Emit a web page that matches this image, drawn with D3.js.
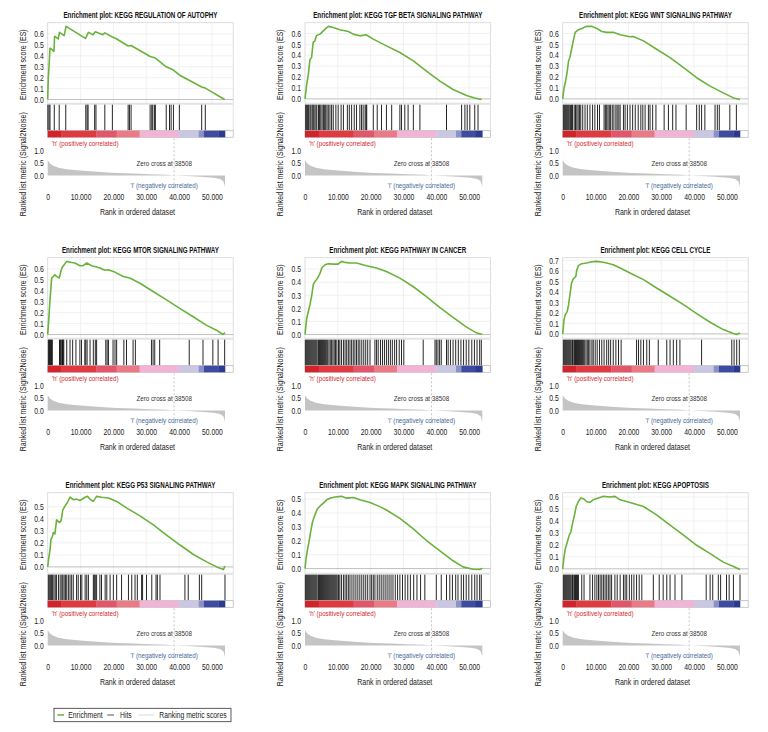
<!DOCTYPE html>
<html><head><meta charset="utf-8">
<script src="https://cdn.jsdelivr.net/npm/d3@7/dist/d3.min.js"></script>
<style>
html,body{margin:0;padding:0;background:#fff;}
svg{display:block;font-family:"Liberation Sans",Arial,sans-serif;}
</style></head><body>
<svg id="chart" width="768" height="732"></svg>
<script>
// ---------- DATA (ranks in thousands) ----------
const panelTitles = [
  "Enrichment plot: KEGG REGULATION OF AUTOPHY",
  "Enrichment plot: KEGG TGF BETA SIGNALING PATHWAY",
  "Enrichment plot: KEGG WNT SIGNALING PATHWAY",
  "Enrichment plot: KEGG MTOR SIGNALING PATHWAY",
  "Enrichment plot: KEGG PATHWAY IN CANCER",
  "Enrichment plot: KEGG CELL CYCLE",
  "Enrichment plot: KEGG P53 SIGNALING PATHWAY",
  "Enrichment plot: KEGG MAPK SIGNALING PATHWAY",
  "Enrichment plot: KEGG APOPTOSIS"
];

const esAutophagy = [[0,0],[0.2,0.21],[0.4,0.30],[0.7,0.47],[1.4,0.455],[1.9,0.44],[2.1,0.58],[3.2,0.555],[3.6,0.615],[5.0,0.585],[5.6,0.67],[11.5,0.56],[12.4,0.615],[13.8,0.594],[14.5,0.62],[16.8,0.594],[17.4,0.61],[19.7,0.572],[20.9,0.557],[24.5,0.49],[25.4,0.495],[31.2,0.394],[32.8,0.38],[36.1,0.30],[38.3,0.27],[40.1,0.225],[46.9,0.115],[48.0,0.105],[53.9,0.0]];
const hitsAutophagy = [0.05,0.4,0.7,2.0,3.5,5.5,11.6,12.0,12.3,14.3,14.7,17.4,19.7,24.5,24.9,25.4,31.2,31.7,32.0,32.5,32.8,36.1,37.1,37.6,38.3,40.1,46.9,48.0];

const esTgfBeta = [[0,0],[0.5,0.13],[1.0,0.22],[1.5,0.36],[2.0,0.38],[2.5,0.52],[3.0,0.53],[3.5,0.58],[4.6,0.594],[5.1,0.61],[6.1,0.64],[7.1,0.665],[8.6,0.655],[10.6,0.634],[13.2,0.618],[14.7,0.594],[16.7,0.578],[18.6,0.588],[20.8,0.548],[24.8,0.486],[28.9,0.425],[33.0,0.348],[37.0,0.255],[41.1,0.163],[45.1,0.086],[49.2,0.031],[51.7,0.009],[53.8,-0.006]];
const hitsTgfBeta = [0.2,0.5,0.8,1.1,1.5,1.8,2.2,2.5,2.8,3.3,3.6,4.1,4.4,4.8,5.2,5.6,5.9,6.3,6.7,7.1,7.6,8.1,8.6,9.4,10.1,11.0,11.7,12.9,13.5,14.2,15.0,15.7,16.7,17.2,17.7,18.3,18.6,18.8,20.8,22.0,23.3,24.8,26.4,28.9,29.4,30.4,31.4,33.0,35.0,43.1,47.7,48.7,49.4,50.2,51.7,52.7];

const esWnt = [[0,0],[0.4,0.10],[0.8,0.15],[1.4,0.255],[1.8,0.35],[2.2,0.38],[2.7,0.455],[3.2,0.53],[3.8,0.61],[4.8,0.634],[5.8,0.646],[7.3,0.665],[8.8,0.665],[10.4,0.646],[11.9,0.618],[13.4,0.61],[15.4,0.61],[17.5,0.588],[20.5,0.57],[21.5,0.572],[24.6,0.532],[28.6,0.455],[32.7,0.378],[36.8,0.286],[40.8,0.194],[44.9,0.117],[48.9,0.055],[52.0,0.009],[54.0,-0.006]];
const hitsWnt = [0.2,0.5,0.8,1.1,1.4,1.7,2.0,2.4,2.7,3.0,3.5,3.9,4.3,4.7,5.1,5.5,6.1,6.8,7.5,8.3,9.1,9.8,10.6,11.2,12.6,13.0,13.4,13.8,14.2,14.6,15.1,15.6,16.2,16.6,17.1,17.5,18.5,19.0,19.7,20.5,21.3,22.1,23.0,23.8,24.4,25.1,26.1,26.6,27.4,28.4,30.9,32.2,33.5,34.5,37.6,40.8,41.6,42.3,43.3,46.4,47.1,47.7,50.9,52.9];

const esMtor = [[0,0],[0.3,0.13],[0.7,0.317],[0.9,0.394],[1.2,0.517],[1.7,0.532],[2.2,0.548],[2.7,0.532],[3.5,0.517],[4.3,0.609],[4.8,0.63],[5.8,0.67],[7.3,0.66],[8.3,0.655],[9.8,0.63],[10.8,0.63],[11.9,0.655],[13.4,0.63],[14.9,0.618],[15.9,0.609],[17.4,0.588],[18.4,0.594],[20.0,0.578],[23.0,0.532],[25.0,0.517],[28.1,0.47],[32.1,0.394],[36.2,0.317],[40.2,0.24],[44.3,0.163],[48.3,0.086],[51.4,0.04],[53.4,0.0],[54.0,0.018]];
const hitsMtor = [0.2,0.4,0.6,0.8,1.0,1.2,1.4,3.6,3.8,4.0,4.3,4.5,4.7,4.9,5.8,6.8,7.6,8.6,9.8,10.3,11.3,11.6,12.0,12.9,13.9,14.5,14.9,17.7,18.1,18.5,19.9,20.5,21.0,23.2,24.0,26.0,26.7,31.6,32.1,32.6,34.1,43.1,47.3,50.3,51.9,53.9];

const esCancer = [[0,0],[0.5,0.123],[1.0,0.174],[1.5,0.226],[2.0,0.29],[2.5,0.38],[3.0,0.405],[3.5,0.418],[4.1,0.444],[4.6,0.469],[5.1,0.508],[6.1,0.533],[7.1,0.541],[8.6,0.538],[10.1,0.538],[11.1,0.559],[12.2,0.551],[13.7,0.546],[15.7,0.546],[18.7,0.526],[21.8,0.508],[24.8,0.482],[28.9,0.431],[32.9,0.367],[37.0,0.29],[41.0,0.208],[45.1,0.131],[49.1,0.059],[52.2,0.013],[54.0,0]];
const hitsCancer = [0.1,0.4,0.7,1.0,1.3,1.6,1.9,2.2,2.5,2.8,3.1,3.4,3.7,4.1,4.4,4.7,5.0,5.3,5.6,5.9,6.2,6.5,6.9,7.3,7.7,8.1,8.5,8.9,9.3,9.7,10.2,10.6,11.1,11.7,12.2,12.7,13.2,13.7,14.2,14.7,15.2,15.7,16.2,16.7,17.3,17.9,18.5,19.1,19.8,21.3,21.8,22.3,23.0,23.6,24.2,24.8,25.4,26.0,26.6,27.3,27.9,28.7,29.4,30.1,36.0,39.6,40.0,40.5,41.0,41.5,43.1,43.6,44.3,45.1,45.9,46.7,47.5,48.3,49.1,49.9,50.8,51.6,52.4,53.2,53.7];

const esCellCycle = [[0,0],[0.4,0.136],[0.8,0.184],[1.4,0.215],[1.8,0.278],[2.2,0.373],[2.7,0.484],[3.2,0.522],[4.0,0.547],[4.3,0.61],[4.8,0.649],[5.8,0.668],[7.3,0.674],[8.8,0.687],[10.4,0.69],[11.9,0.684],[13.4,0.674],[15.4,0.658],[17.5,0.627],[20.5,0.579],[24.6,0.516],[28.6,0.437],[32.7,0.358],[36.8,0.278],[40.8,0.193],[44.9,0.111],[48.9,0.041],[52.0,0.003],[53.0,-0.006],[54.0,0.009]];
const hitsCellCycle = [0.2,0.5,0.8,1.1,1.4,1.7,2.0,2.3,2.6,3.0,3.2,3.6,3.9,4.2,4.5,4.8,5.1,5.4,5.7,6.0,6.3,6.7,7.1,7.5,7.9,8.3,8.9,9.3,9.9,10.5,11.2,11.9,12.6,13.4,14.0,14.6,15.4,16.2,17.0,17.8,22.5,23.1,23.8,24.6,25.6,26.4,29.1,31.7,32.7,33.7,34.7,35.7,42.3,51.5,52.2,53.0,53.8];

const esP53 = [[0,0],[0.3,0.07],[0.7,0.14],[1.0,0.229],[1.4,0.251],[1.7,0.285],[2.2,0.274],[2.7,0.391],[3.6,0.369],[4.1,0.385],[4.6,0.475],[5.3,0.508],[6.0,0.536],[6.8,0.58],[7.8,0.559],[8.8,0.564],[9.8,0.553],[11.4,0.58],[12.1,0.587],[13.1,0.559],[13.9,0.545],[14.9,0.587],[16.4,0.58],[18.5,0.573],[21.0,0.545],[24.1,0.489],[28.1,0.425],[32.2,0.349],[36.2,0.265],[40.3,0.182],[44.4,0.103],[48.4,0.042],[51.5,0.0],[53.5,-0.022],[54.0,0.006]];
const hitsP53 = [0.2,0.5,0.9,1.2,1.5,1.9,2.3,2.7,3.3,3.8,4.3,4.6,5.0,5.4,5.8,6.3,6.8,7.3,7.8,8.8,9.3,10.0,10.4,11.4,11.9,12.4,13.9,14.2,14.5,14.9,15.9,16.4,17.5,18.0,19.0,20.0,21.0,22.5,24.6,25.6,26.6,27.3,28.6,28.9,30.1,31.7,33.0,33.4,34.2,41.8,42.8,46.2,46.9,54.0];

const esMapk = [[0,0],[0.3,0.068],[0.7,0.129],[1.2,0.19],[1.7,0.263],[2.3,0.337],[3.0,0.385],[3.7,0.427],[4.6,0.451],[5.6,0.471],[6.6,0.495],[7.6,0.507],[9.1,0.515],[11.1,0.52],[12.7,0.507],[14.7,0.512],[16.7,0.495],[19.8,0.476],[22.8,0.446],[24.8,0.422],[28.9,0.361],[32.9,0.288],[37.0,0.202],[41.0,0.129],[45.1,0.056],[48.1,0.012],[51.2,-0.005],[53.2,-0.007],[54.0,0.002]];
const hitsMapk = [0.1,0.4,0.7,1.0,1.3,1.6,1.9,2.2,2.5,2.8,3.1,3.4,3.7,4.1,4.4,4.7,5.0,5.3,5.6,5.9,6.2,6.5,6.8,7.1,7.4,7.7,8.0,8.3,8.6,8.9,9.2,9.5,9.8,10.2,10.6,11.1,11.7,12.2,12.7,13.2,13.7,14.3,14.9,15.5,16.1,16.7,17.3,17.9,18.5,19.1,19.8,20.3,20.8,21.3,22.0,22.6,23.2,23.8,24.4,25.0,25.6,26.2,26.8,27.5,28.2,28.9,29.7,30.5,31.3,32.1,33.1,34.1,35.2,36.5,40.0,41.5,43.1,44.1,44.9,45.9,46.6,47.6,48.3,49.1,49.9,50.8,51.7,52.4,53.2,53.7];

const esApoptosis = [[0,0],[0.4,0.099],[0.8,0.169],[1.4,0.225],[2.0,0.282],[2.5,0.31],[3.0,0.38],[3.6,0.451],[4.1,0.521],[4.8,0.563],[5.5,0.592],[6.5,0.583],[7.3,0.563],[8.3,0.555],[9.3,0.577],[10.9,0.592],[12.4,0.606],[14.4,0.6],[15.9,0.606],[17.5,0.577],[20.5,0.555],[24.6,0.521],[28.6,0.451],[32.7,0.366],[36.8,0.282],[40.8,0.197],[44.9,0.127],[48.9,0.056],[52.0,0.02],[54.0,-0.006]];
const hitsApoptosis = [0.2,0.5,0.8,1.1,1.4,1.7,2.0,2.3,2.6,3.0,3.2,3.6,3.9,4.2,4.5,4.8,5.8,6.5,8.3,9.1,9.8,10.4,10.9,11.4,11.9,12.4,12.9,13.4,13.9,14.4,14.9,15.9,16.6,17.5,18.5,19.0,19.5,20.3,21.0,21.7,22.5,23.3,24.1,27.6,29.4,30.6,31.7,32.7,34.2,36.3,43.7,44.9,45.7,47.4,48.1,49.9,50.7,52.0,54.0];

// ranked list metric (shared by all panels)
const metricRank  = [0, 0.7, 1.7, 3.3, 5.8, 9.9, 16.0, 21.0, 26.1, 31.2, 36.2, 38.5, 42.3, 46.4, 50.5, 52.5, 53.5, 53.9, 54.0];
const metricValue = [0.61, 0.48, 0.39, 0.31, 0.25, 0.195, 0.143, 0.10, 0.078, 0.052, 0.026, 0.0, -0.026, -0.052, -0.09, -0.14, -0.23, -0.40, -0.49];

// phenotype colour bar
const barBreaks = [0, 4.2, 14.8, 21.0, 28.0, 40.0, 46.0, 47.6, 52.0, 54.0];
const barColors = ["#d2232a", "#e03a40", "#e2566a", "#ea7b86", "#f1b4d6", "#cac7e5", "#8a90c8", "#3d4ca0", "#2c3b92"];

const zeroCross = 38508;
const xTicks = [0, 10, 20, 30, 40, 50];
const metricTicks = [0.0, 0.5, 1.0];
const legendLabels = ["Enrichment", "Hits", "Ranking metric scores"];

const esSeries = [esAutophagy, esTgfBeta, esWnt, esMtor, esCancer, esCellCycle, esP53, esMapk, esApoptosis];
const hitSeries = [hitsAutophagy, hitsTgfBeta, hitsWnt, hitsMtor, hitsCancer, hitsCellCycle, hitsP53, hitsMapk, hitsApoptosis];

// ---------- LAYOUT ----------
const svg = d3.select("#chart");
const colLeft = [47.7, 305, 562.7];
const rowTop = [22.7, 257.7, 492.7];
const plotW = 185.5;
const green = "#6ab23c";
const ink = "#1a1a1a";
const fmtK = d3.formatLocale({decimal: ",", thousands: ".", grouping: [3], currency: ["", ""]}).format(",d");
const NARROW = 0.8;
function condense(sel, f) {
  sel.each(function () {
    const w = this.getComputedTextLength();
    this.setAttribute("textLength", (w * (f || NARROW)).toFixed(2));
    this.setAttribute("lengthAdjust", "spacingAndGlyphs");
  });
  return sel;
}

const metricPts = metricRank.map((r, i) => [r, metricValue[i]]);

panelTitles.forEach((title, i) => {
  const L = colLeft[i % 3], T = rowTop[Math.floor(i / 3)];
  const g = svg.append("g");
  const x = d3.scaleLinear().domain([0, 56.5]).range([L, L + plotW]);

  // ES panel
  const es = esSeries[i];
  const emin = Math.min(0, d3.min(es, d => d[1])), emax = d3.max(es, d => d[1]);
  const pad = (emax - emin) * 0.05;
  const esTop = T, esBot = T + 80.5;
  const y = d3.scaleLinear().domain([emin - pad, emax + pad]).range([esBot, esTop]);
  const yT = d3.range(0, emax + 0.0101, 0.1).map(v => Math.round(v * 10) / 10);

  g.append("g").selectAll("line").data(xTicks.filter(d => d > 0)).join("line")
    .attr("x1", d => x(d)).attr("x2", d => x(d)).attr("y1", esTop).attr("y2", esBot)
    .attr("stroke", "#eeeeee").attr("stroke-width", 0.8);
  g.append("g").selectAll("line").data(yT.filter(d => d > 0)).join("line")
    .attr("x1", L).attr("x2", L + plotW).attr("y1", d => y(d)).attr("y2", d => y(d))
    .attr("stroke", "#eeeeee").attr("stroke-width", 0.8);
  g.append("rect").attr("x", L).attr("y", esTop).attr("width", plotW).attr("height", esBot - esTop)
    .attr("fill", "none").attr("stroke", "#d6d6d6").attr("stroke-width", 0.8);
  g.append("line").attr("x1", L).attr("x2", L + plotW).attr("y1", y(0)).attr("y2", y(0))
    .attr("stroke", "#b0b0b0").attr("stroke-width", 0.8);

  g.append("path").datum(es)
    .attr("d", d3.line().x(d => x(d[0])).y(d => y(d[1])))
    .attr("fill", "none").attr("stroke", green).attr("stroke-width", 1.6).attr("stroke-linejoin", "round");

  const ay = g.append("g").attr("transform", `translate(${L},0)`)
    .call(d3.axisLeft(y).tickValues(yT).tickFormat(d3.format(".1f")).tickSize(0).tickPadding(4));
  ay.select(".domain").remove();
  condense(ay.selectAll("text").attr("font-size", 8.5).attr("fill", ink).attr("font-family", null));

  // title (horizontally condensed with a transform)
  g.append("text").attr("transform", `translate(${L + plotW / 2},${T - 8}) scale(0.76,1)`).attr("dy", "0.35em")
    .attr("text-anchor", "middle").attr("font-weight", "bold").attr("font-size", 8.2).attr("fill", "#111")
    .text(title);

  // hits panel
  const hTop = T + 81.5, hBot = T + 108, cBot = T + 114.6;
  g.append("rect").attr("x", L).attr("y", hTop).attr("width", plotW).attr("height", hBot - hTop)
    .attr("fill", "none").attr("stroke", "#dcdcdc").attr("stroke-width", 0.8);
  g.append("g").selectAll("line").data(hitSeries[i]).join("line")
    .attr("x1", d => x(d)).attr("x2", d => x(d)).attr("y1", hTop + 0.5).attr("y2", hBot)
    .attr("stroke", "#000").attr("stroke-opacity", 0.85).attr("stroke-width", 1);

  // colour bar
  g.append("rect").attr("x", L).attr("y", hBot).attr("width", plotW).attr("height", cBot - hBot)
    .attr("fill", "#fff").attr("stroke", "#bdbdbd").attr("stroke-width", 0.8);
  g.append("g").selectAll("rect").data(barColors).join("rect")
    .attr("x", (c, k) => x(barBreaks[k])).attr("width", (c, k) => x(barBreaks[k + 1]) - x(barBreaks[k]) + 0.3)
    .attr("y", hBot).attr("height", cBot - hBot).attr("fill", c => c);

  // metric panel
  const my = d3.scaleLinear().domain([-0.55, 1.45]).range([T + 166.5, T + 116.5]);
  g.append("path").datum(metricPts)
    .attr("d", d3.area().x(d => x(d[0])).y0(my(0)).y1(d => my(d[1])))
    .attr("fill", "#c4c4c4");
  g.append("line").attr("x1", x(zeroCross / 1000)).attr("x2", x(zeroCross / 1000))
    .attr("y1", cBot + 1).attr("y2", T + 166)
    .attr("stroke", "#aaaaaa").attr("stroke-width", 0.7).attr("stroke-dasharray", "2,2");
  const am = g.append("g").attr("transform", `translate(${L},0)`)
    .call(d3.axisLeft(my).tickValues(metricTicks).tickFormat(d3.format(".1f")).tickSize(0).tickPadding(4));
  am.select(".domain").remove();
  condense(am.selectAll("text").attr("font-size", 8.5).attr("fill", ink).attr("font-family", null));

  condense(g.append("text").attr("x", L + 4).attr("y", T + 120.6).attr("dy", "0.35em")
    .attr("font-size", 7.8).attr("fill", "#d42a30").text("'h'  (positively correlated)"));
  condense(g.append("text").attr("x", x(zeroCross / 1000) - 10).attr("y", T + 140.5).attr("dy", "0.35em")
    .attr("text-anchor", "middle").attr("font-size", 7.8).attr("fill", "#333").text("Zero cross at " + zeroCross));
  condense(g.append("text").attr("x", x(zeroCross / 1000) - 10).attr("y", T + 162.3).attr("dy", "0.35em")
    .attr("text-anchor", "middle").attr("font-size", 7.8).attr("fill", "#46699a").text("'l'  (negatively correlated)"));

  // x axis
  const ax = g.append("g").attr("transform", `translate(0,${T + 170})`)
    .call(d3.axisBottom(x).tickValues(xTicks).tickFormat(d => fmtK(d * 1000)).tickSize(0).tickPadding(1.5));
  ax.select(".domain").remove();
  condense(ax.selectAll("text").attr("font-size", 8.5).attr("fill", ink).attr("font-family", null));

  condense(g.append("text").attr("x", L + plotW / 2 - 3).attr("y", T + 189).attr("dy", "0.35em")
    .attr("text-anchor", "middle").attr("font-size", 8.8).attr("fill", ink).text("Rank in ordered dataset"));
  condense(g.append("text").attr("transform", `translate(${L - 25},${T + 42}) rotate(-90)`).attr("dy", "0.35em")
    .attr("text-anchor", "middle").attr("font-size", 8.8).attr("fill", ink).text("Enrichment score (ES)"));
  condense(g.append("text").attr("transform", `translate(${L - 25},${T + 141.5}) rotate(-90)`).attr("dy", "0.35em")
    .attr("text-anchor", "middle").attr("font-size", 8.8).attr("fill", ink).text("Ranked list metric (Signal2Noise)"));
});

// legend
const lg = svg.append("g");
lg.append("rect").attr("x", 54).attr("y", 708.3).attr("width", 177).attr("height", 13.4)
  .attr("fill", "#fff").attr("stroke", "#333").attr("stroke-width", 0.8);
const legSwatch = [[57.3, 64, green, 1.5], [107.3, 114, "#555", 1], [139, 154, "#e6e6e6", 1.5]];
const legTextX = [68.3, 120, 159.3];
legendLabels.forEach((t, k) => {
  lg.append("line").attr("x1", legSwatch[k][0]).attr("x2", legSwatch[k][1]).attr("y1", 715).attr("y2", 715)
    .attr("stroke", legSwatch[k][2]).attr("stroke-width", legSwatch[k][3]);
  condense(lg.append("text").attr("x", legTextX[k]).attr("y", 715).attr("dy", "0.35em")
    .attr("font-size", 8.5).attr("fill", ink).text(t));
});
</script>
</body></html>
